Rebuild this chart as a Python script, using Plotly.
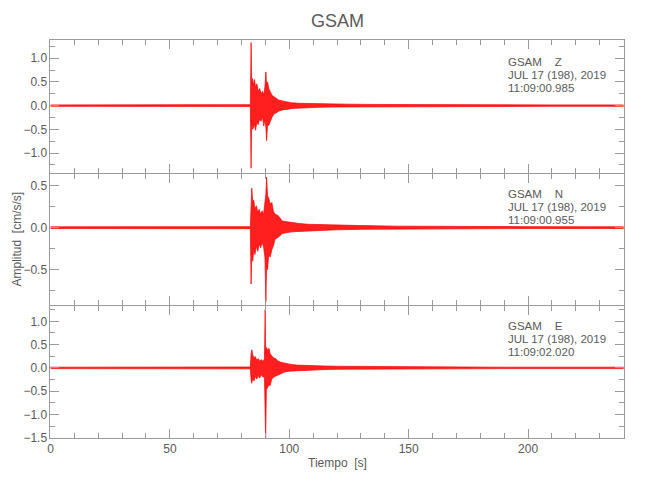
import plotly.graph_objects as go

# ---- data: envelope (upper / lower) of each component ----
t_z = [0, 20, 40, 60, 83.7, 84.0, 84.25, 84.6, 85.0, 85.4, 85.9, 86.4, 87.0, 87.6, 88.2, 88.8,
       89.3, 89.8, 90.2, 90.5, 90.9, 91.4, 92.0, 92.7, 93.5, 94.5, 95.5, 97, 99, 101, 104, 108,
       112, 118, 125, 135, 150, 180, 210, 240]
up_z = [0.015, 0.02, 0.015, 0.02, 0.02, 1.33, 0.45, 0.57, 0.42, 0.55, 0.38, 0.46, 0.30, 0.36, 0.25, 0.30,
        0.22, 0.40, 0.71, 0.45, 0.50, 0.36, 0.30, 0.22, 0.19, 0.15, 0.12, 0.10, 0.08, 0.06, 0.05, 0.045,
        0.035, 0.03, 0.03, 0.025, 0.02, 0.015, 0.015, 0.015]
lo_z = [-0.015, -0.015, -0.02, -0.015, -0.02, -1.32, -0.30, -0.50, -0.47, -0.38, -0.52, -0.35, -0.40, -0.28, -0.33, -0.22,
        -0.43, -0.30, -0.45, -0.74, -0.40, -0.42, -0.35, -0.25, -0.18, -0.16, -0.12, -0.09, -0.08, -0.06, -0.05, -0.04,
        -0.035, -0.03, -0.025, -0.02, -0.02, -0.015, -0.015, -0.015]

t_n = [0, 30, 60, 83.7, 84.0, 84.3, 84.7, 85.1, 85.6, 86.2, 86.8, 87.4, 88.0, 88.6, 89.2, 89.8,
       90.2, 90.5, 90.9, 91.4, 92.0, 92.7, 93.3, 94.0, 95.0, 96, 97, 99, 101, 104, 108, 113,
       120, 130, 145, 170, 200, 240]
up_n = [0.01, 0.012, 0.01, 0.012, 0.25, 0.47, 0.30, 0.33, 0.22, 0.26, 0.18, 0.22, 0.16, 0.20, 0.15, 0.30,
        0.40, 0.60, 0.38, 0.35, 0.28, 0.30, 0.20, 0.16, 0.15, 0.12, 0.08, 0.07, 0.06, 0.05, 0.04, 0.035,
        0.03, 0.025, 0.018, 0.012, 0.012, 0.01]
lo_n = [-0.01, -0.01, -0.012, -0.012, -0.67, -0.30, -0.40, -0.25, -0.32, -0.22, -0.28, -0.19, -0.24, -0.18, -0.22, -0.35,
        -0.88, -0.45, -0.50, -0.32, -0.35, -0.26, -0.22, -0.14, -0.12, -0.10, -0.07, -0.06, -0.05, -0.045, -0.035, -0.03,
        -0.025, -0.02, -0.015, -0.012, -0.01, -0.01]

t_e = [0, 30, 60, 83.7, 84.0, 84.3, 84.7, 85.2, 85.8, 86.4, 87.0, 87.6, 88.3, 89.0, 89.6, 89.9,
       90.1, 90.4, 90.9, 91.5, 92.0, 92.6, 93.3, 94.2, 95.2, 96.5, 98, 100, 103, 107, 111, 115,
       120, 130, 140, 160, 190, 240]
up_e = [0.015, 0.015, 0.02, 0.02, 0.30, 0.39, 0.28, 0.22, 0.24, 0.16, 0.20, 0.14, 0.18, 0.13, 0.20, 1.25,
        0.30, 0.44, 0.38, 0.42, 0.30, 0.25, 0.22, 0.20, 0.15, 0.12, 0.10, 0.08, 0.06, 0.05, 0.045, 0.04,
        0.035, 0.03, 0.025, 0.02, 0.015, 0.015]
lo_e = [-0.015, -0.02, -0.015, -0.02, -0.25, -0.33, -0.22, -0.28, -0.18, -0.24, -0.16, -0.22, -0.14, -0.20, -0.18, -0.40,
        -1.52, -0.47, -0.42, -0.36, -0.38, -0.25, -0.20, -0.18, -0.15, -0.12, -0.09, -0.07, -0.06, -0.05, -0.04, -0.035,
        -0.03, -0.025, -0.02, -0.015, -0.015, -0.015]

station = "GSAM"
components = ["Z", "N", "E"]
date_label = "JUL 17 (198), 2019"
start_times = ["11:09:00.985", "11:09:00.955", "11:09:02.020"]
y_ranges = [[-1.41, 1.38], [-0.915, 0.643], [-1.5, 1.336]]
x_range = [0, 240]

FONT = "Liberation Sans, Arial, sans-serif"
AXC = "#9a9a9a"
TXC = "#5a5a5a"

W, H = 650, 500
x0p, x1p = 47.7, 623.5
panels_px = [(40.7, 175.0), (176.0, 309.0), (310.0, 444.0)]

fig = go.Figure()
series = [(t_z, up_z, lo_z), (t_n, up_n, lo_n), (t_e, up_e, lo_e)]
for i, (t, up, lo) in enumerate(series):
    xs = list(t) + list(t[::-1])
    ys = list(up) + list(lo[::-1])
    fig.add_trace(go.Scatter(
        x=xs, y=ys, mode="lines", fill="toself",
        fillcolor="rgba(255,0,0,0.88)", line=dict(color="#ff0000", width=0.7),
        xaxis="x" if i == 0 else f"x{i+1}", yaxis="y" if i == 0 else f"y{i+1}",
        hoverinfo="skip", showlegend=False))

common = dict(showline=True, linecolor=AXC, linewidth=1, mirror="ticks",
              ticks="inside", ticklen=9, tickcolor=AXC, tickwidth=1,
              zeroline=False, showgrid=False,
              tickfont=dict(family=FONT, size=12, color=TXC))

layout = dict(width=W, height=H, margin=dict(l=0, r=0, t=0, b=0),
              paper_bgcolor="white", plot_bgcolor="white", showlegend=False)

for i, (ytop, ybot) in enumerate(panels_px):
    sx = "" if i == 0 else str(i + 1)
    layout["xaxis" + sx] = dict(common, domain=[x0p / W, x1p / W], range=x_range,
                                dtick=50, tick0=0, anchor="y" + sx,
                                showticklabels=(i == 2),
                                minor=dict(dtick=10, ticks="inside", ticklen=5, tickcolor=AXC))
    layout["yaxis" + sx] = dict(common, domain=[1 - ybot / H, 1 - ytop / H], range=y_ranges[i],
                                dtick=0.5, tick0=0, tickformat=".1f", anchor="x" + sx,
                                minor=dict(dtick=0.25, ticks="inside", ticklen=5, tickcolor=AXC))

fig.update_layout(**layout)


def label(text, xpx, ypx, size, xanchor="center", angle=0):
    return dict(text=text, x=xpx / W, y=1 - ypx / H, xref="paper", yref="paper",
                xanchor=xanchor, yanchor="middle", textangle=angle, showarrow=False,
                font=dict(family=FONT, size=size, color=TXC))


ann = [label(station, (x0p + x1p) / 2, 21, 18),
       label("Tiempo  [s]", (x0p + x1p) / 2, 470, 12),
       label("Amplitud  [cm/s/s]", 14, 242, 12, angle=-90)]
line_y = [(63, 76.3, 89.6), (196.5, 209.8, 223.1), (330.5, 343.8, 357.1)]
for i in range(3):
    texts = [station + "\u00a0\u00a0\u00a0\u00a0" + components[i], date_label, start_times[i]]
    for txt, yy in zip(texts, line_y[i]):
        ann.append(label(txt, 505, yy, 11.5, xanchor="left"))
fig.update_layout(annotations=ann)

fig.write_html(
    "out.html",
    config={"displayModeBar": False},
    post_script=("document.body.style.margin='0px';"
                 "document.body.style.overflow='hidden';"
                 "document.documentElement.style.overflow='hidden';"),
)
